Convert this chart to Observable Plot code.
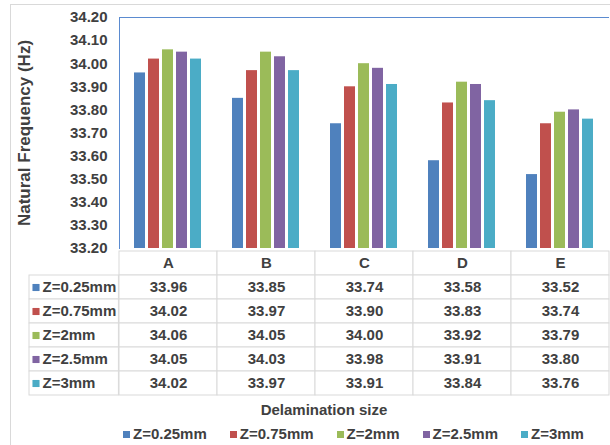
<!DOCTYPE html>
<html>
<head>
<meta charset="utf-8">
<script src="https://cdn.jsdelivr.net/npm/d3@7"></script>
<script src="https://cdn.jsdelivr.net/npm/@observablehq/plot@0.6"></script>
<style>
  body { margin: 0; background: #fff; width: 610px; height: 445px; overflow: hidden; position: relative;
         font-family: "Liberation Sans", Arial, sans-serif; font-weight: bold; color: #404040; }
  #border { position: absolute; left: 10px; top: 4px; width: 700px; height: 500px;
            border-left: 1px solid #d9d9d9; border-top: 1px solid #d9d9d9; }
  #chart { position: absolute; left: 0; top: 0; }
  #table { position: absolute; left: 0; top: 248px; }
  #xtitle { position: absolute; left: 0; width: 648px; top: 401px; text-align: center; font-size: 15px; line-height: 18px; }
  #legend { position: absolute; left: 123px; top: 425px; display: flex; font-size: 15px; line-height: 18px; }
  #legend .item { display: flex; align-items: center; margin-right: 23px; }
  #legend .sw { width: 7px; height: 7px; margin-right: 3px; }
  #chart g[aria-label="y-axis label"] text { font-size: 17px; }
</style>
</head>
<body>
<div id="border"></div>
<div id="chart"></div>
<div id="table"></div>
<div id="xtitle">Delamination size</div>
<div id="legend"></div>
<script>
// Delamination cases along the x axis
const categories = ["A", "B", "C", "D", "E"];
// Delamination depth series
const seriesNames = ["Z=0.25mm", "Z=0.75mm", "Z=2mm", "Z=2.5mm", "Z=3mm"];
const seriesColors = ["#4f81bd", "#c0504d", "#9bbb59", "#8064a2", "#4bacc6"];
// Natural frequency (Hz) per series, in category order A–E
const z025 = [33.96, 33.85, 33.74, 33.58, 33.52];
const z075 = [34.02, 33.97, 33.90, 33.83, 33.74];
const z2   = [34.06, 34.05, 34.00, 33.92, 33.79];
const z25  = [34.05, 34.03, 33.98, 33.91, 33.80];
const z3   = [34.02, 33.97, 33.91, 33.84, 33.76];
const yTicks = [33.2, 33.3, 33.4, 33.5, 33.6, 33.7, 33.8, 33.9, 34.0, 34.1, 34.2];
const yLabel = "Natural Frequency (Hz)";

const seriesValues = [z025, z075, z2, z25, z3];
const rows = [];
seriesNames.forEach((s, i) => categories.forEach((c, j) => rows.push({cat: c, series: s, value: seriesValues[i][j]})));

const W = 610, left = 117;
const font = {fontFamily: "'Liberation Sans', Arial, sans-serif", fontSize: "15px", fontWeight: "bold", color: "#404040", background: "transparent", overflow: "visible"};
const frameBlue = "#5b8bd0";
const gridGray = "#d9d9d9";

const chart = Plot.plot({
  width: W, height: 248,
  marginTop: 17, marginBottom: 0, marginLeft: left, marginRight: 0,
  style: font,
  fx: {domain: categories, padding: 0, axis: null},
  x: {domain: seriesNames, paddingInner: 0.2, paddingOuter: 0.89, axis: null},
  y: {domain: [yTicks[0], yTicks[yTicks.length - 1]], ticks: yTicks, tickFormat: d => d.toFixed(2),
      tickSize: 0, tickPadding: 12, label: yLabel, labelAnchor: "center", labelOffset: 102, labelArrow: "none"},
  color: {domain: seriesNames, range: seriesColors},
  marks: [
    Plot.barY(rows, {fx: "cat", x: "series", y1: yTicks[0], y2: "value", fill: "series"}),
    Plot.ruleY([yTicks[yTicks.length - 1]], {stroke: frameBlue}),
    Plot.frame({anchor: "left", stroke: frameBlue, facet: "super"})
  ]
});
document.getElementById("chart").append(chart);

// Data table under the chart
const colW = (W - left) / categories.length;
const labelW = 90;
const table = Plot.plot({
  width: W, height: 150,
  marginTop: 0, marginBottom: 1, marginLeft: left, marginRight: 0,
  style: font,
  x: {domain: categories, padding: 0, axis: null},
  y: {domain: ["header", ...seriesNames], padding: 0, axis: null},
  color: {domain: seriesNames, range: seriesColors},
  marks: [
    Plot.cell(categories, {x: d => d, y: () => "header", fill: "white", stroke: gridGray}),
    Plot.cell(rows, {x: "cat", y: "series", fill: "white", stroke: gridGray}),
    Plot.cell(seriesNames, {x: () => categories[0], y: d => d, fill: "white", stroke: gridGray,
                            insetLeft: -labelW, insetRight: colW}),
    Plot.text(categories, {x: d => d, y: () => "header", text: d => d, fill: "#404040"}),
    Plot.text(rows, {x: "cat", y: "series", text: d => d.value.toFixed(2), fill: "#404040"}),
    Plot.dot(seriesNames, {y: d => d, frameAnchor: "left", dx: -81.5, symbol: "square", r: 4, fill: d => d}),
    Plot.text(seriesNames, {y: d => d, frameAnchor: "left", dx: -75, textAnchor: "start", text: d => d, fill: "#404040"})
  ]
});
document.getElementById("table").append(table);

// Legend
const legend = document.getElementById("legend");
seriesNames.forEach((s, i) => {
  const item = document.createElement("div");
  item.className = "item";
  const sw = document.createElement("span");
  sw.className = "sw";
  sw.style.background = seriesColors[i];
  const t = document.createElement("span");
  t.textContent = s;
  item.append(sw, t);
  legend.append(item);
});
</script>
</body>
</html>
